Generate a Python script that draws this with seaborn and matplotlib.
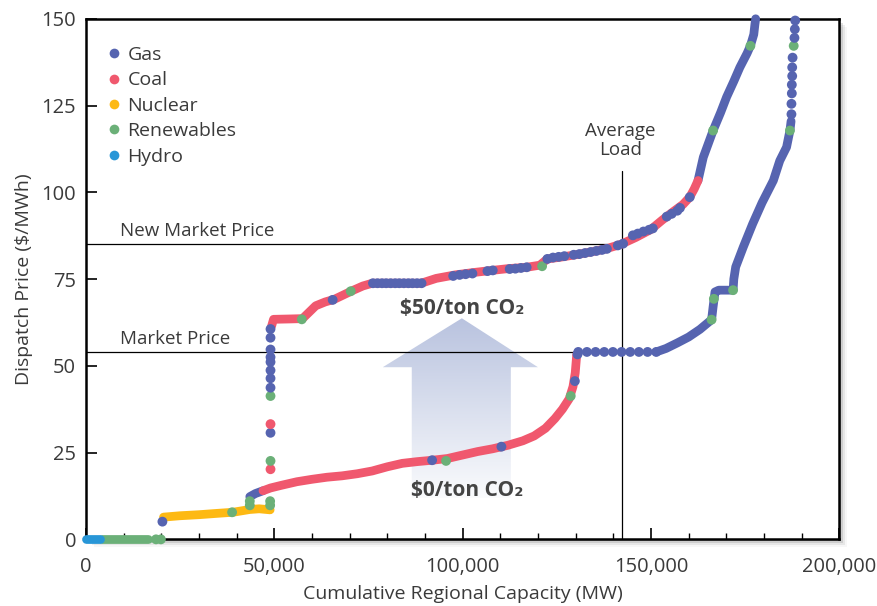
import numpy as np
import pandas as pd
import matplotlib
matplotlib.use("Agg")
import matplotlib.pyplot as plt
from matplotlib.lines import Line2D
from matplotlib.patches import Polygon, Rectangle
from matplotlib.ticker import MultipleLocator, FuncFormatter
import seaborn as sns

sns.set_theme(style="white")
plt.rcParams["font.family"] = ["Open Sans", "DejaVu Sans"]

fuels = ["Gas", "Coal", "Nuclear", "Renewables", "Hydro"]
fuel_colors = ["#5664b0", "#f0586e", "#fdb913", "#6bb078", "#2896d7"]
palette = dict(zip(fuels, fuel_colors))

G, C, N, R, H = fuels

# shared low end of the stack (no CO2 cost)
base_band_x = [4200, 16500, 0, 3600, 20600, 25000, 30000, 35000, 39000, 43500, 46000, 48900]
base_band_y = [0, 0, 0, 0, 6.4, 6.8, 7.1, 7.5, 7.8, 8.6, 8.8, 8.5]
base_band_fuel = [R, R, H, H, N, N, N, N, N, N, N, N]
base_dot_x = [18600, 19900, 20300, 38800, 43500, 43500, 48900, 48900]
base_dot_y = [0, 0, 5.1, 7.8, 9.8, 11.0, 9.8, 11.0]
base_dot_fuel = [R, R, G, R, R, R, R, R]

# $0/ton CO2 curve
zero_band_x = [43500, 45000, 47000,
               47000, 49000, 52000, 56000, 60000, 64000, 68000, 72000, 76000, 80000,
               84000, 88000, 92000, 96000, 100000, 104000, 108000, 112000, 116000,
               119000, 122000, 124500, 126500, 128300, 129300, 129900, 130300,
               151400, 154000, 157000, 160000, 163000, 166100, 166500, 167000, 168000,
               171800, 172000, 172500, 174500, 177000, 179500, 182500, 184200, 186000,
               186900, 187200]
zero_band_y = [12.3, 13.2, 14.0,
               14.0, 14.8, 15.6, 16.6, 17.3, 17.9, 18.3, 18.9, 19.7, 20.9,
               21.9, 22.4, 22.8, 23.3, 24.3, 25.3, 26.1, 27.1, 28.4,
               29.8, 32.0, 34.8, 37.5, 40.5, 44.0, 48.0, 53.3,
               54.0, 55.0, 56.6, 58.3, 60.5, 63.3, 67.0, 71.3, 71.8,
               71.8, 75.0, 78.5, 84.2, 90.9, 97.0, 103.4, 109.1, 113.0,
               117.8, 120.5]
zero_band_fuel = [G] * 3 + [C] * 27 + [G] * 20
zero_dot_x = [91900, 95600, 110300, 128700, 129800, 130500,
              130700, 133000, 135300, 137600, 139900, 142200, 144500, 146800, 149100, 151400,
              166100, 166700, 171800, 186900,
              187300, 187300, 187400, 187400, 187500, 187500, 187600,
              187900, 188100, 188200, 188300]
zero_dot_y = [22.8, 22.6, 26.7, 41.3, 45.6, 53.3,
              54.0, 54.0, 54.0, 54.0, 54.0, 54.0, 54.0, 54.0, 54.0, 54.0,
              63.3, 69.3, 71.8, 117.8,
              122.5, 125.5, 128.5, 131.0, 133.5, 136.0, 138.8,
              142.2, 144.5, 147.0, 149.5]
zero_dot_fuel = [G, R, G, R, G, G] + [G] * 10 + [R, R, R, R] + [G] * 7 + [R, G, G, G]

# $50/ton CO2 curve
fifty_band_x = [49300, 49800, 54000, 57500, 59300, 61000, 63500, 66000, 68500, 71000,
                73500, 76000, 89000, 93000, 98000, 103000, 107000, 112000, 117000,
                120500, 122500, 126000, 130000, 134000, 138000, 142000, 146000, 150000,
                153000, 156000, 158500, 160300, 161500, 162500,
                162500, 163900, 166500, 168500, 170100, 172000, 173600, 175500, 176400,
                177300, 177600, 177800]
fifty_band_y = [61.5, 63.4, 63.5, 63.6, 65.5, 67.3, 68.4, 69.2, 70.5, 71.8,
                73.0, 73.8, 73.8, 75.2, 76.2, 76.9, 77.4, 78.0, 78.4,
                79.0, 80.8, 81.3, 82.0, 82.8, 83.7, 85.0, 87.0, 89.3,
                92.0, 94.5, 96.5, 98.6, 101.0, 103.4,
                103.4, 110.1, 117.8, 123.0, 127.5, 132.0, 136.0, 140.0, 142.2,
                145.5, 148.4, 150.0]
fifty_band_fuel = [C] * 34 + [G] * 12
fifty_dot_x = [49000, 49000, 49000, 49000, 49000, 49000, 49000, 49000, 49000, 49000,
               49000, 49000, 49000,
               57300, 65500, 70300,
               76200, 77400, 78600, 79700, 80900, 82100, 83200, 84400, 85600, 86700, 87900, 89100,
               97500, 99200, 100800, 102600, 106600, 108000,
               112500, 114000, 115500, 117000, 121100,
               122500, 124000, 125500, 127000, 129500, 131000, 132500, 134000,
               135500, 137000, 138300, 141200, 142600,
               145200, 146500, 148000, 149500, 150500,
               154200, 155500, 157000, 157700, 160300,
               166500, 176400]
fifty_dot_y = [20.2, 22.6, 30.7, 33.2, 41.3, 43.7, 46.4, 48.7, 51.1, 52.5,
               54.7, 58.1, 60.6,
               63.4, 69.0, 71.5,
               73.8, 73.8, 73.8, 73.8, 73.8, 73.8, 73.8, 73.8, 73.8, 73.8, 73.8, 73.8,
               75.9, 76.2, 76.4, 76.6, 77.3, 77.5,
               77.9, 78.0, 78.2, 78.4, 78.7,
               80.8, 81.2, 81.4, 81.6, 82.0, 82.2, 82.5, 82.8,
               83.1, 83.4, 83.7, 84.7, 85.2,
               87.6, 88.1, 88.7, 89.2, 89.6,
               93.0, 93.8, 94.7, 95.5, 98.6,
               117.8, 142.2]
fifty_dot_fuel = ([C, R, G, C, R, G, G, G, G, G, G, G, G]
                  + [R, G, R] + [G] * 12 + [G] * 6 + [G, G, G, G, R]
                  + [G] * 8 + [G] * 5 + [G] * 5 + [G] * 5 + [R, R])

ink = "#3a3a3a"


def band_frame(xs, ys, fs, tag):
    df = pd.DataFrame({"mw": xs, "price": ys, "fuel": fs})
    df["run"] = tag + (df["fuel"] != df["fuel"].shift()).cumsum().astype(str)
    return df


def dot_frame(xs, ys, fs):
    return pd.DataFrame({"mw": xs, "price": ys, "fuel": fs})


bands = pd.concat([band_frame(base_band_x, base_band_y, base_band_fuel, "b"),
                   band_frame(zero_band_x, zero_band_y, zero_band_fuel, "z"),
                   band_frame(fifty_band_x, fifty_band_y, fifty_band_fuel, "f")])
dots = pd.concat([dot_frame(base_dot_x, base_dot_y, base_dot_fuel),
                  dot_frame(zero_dot_x, zero_dot_y, zero_dot_fuel),
                  dot_frame(fifty_dot_x, fifty_dot_y, fifty_dot_fuel)])

fig = plt.figure(figsize=(8.77, 6.06), dpi=100)
ax = fig.add_axes([0.098, 0.11, 0.859, 0.859])

# guide lines
ax.plot([0, 138300], [85, 85], color="black", lw=0.9, zorder=2)
ax.plot([0, 130300], [54, 54], color="black", lw=0.9, zorder=2)
ax.plot([142300, 142300], [0, 106], color="black", lw=0.9, zorder=2)

# gradient arrow
arrow = Polygon([(99800, 63.7), (120000, 49.6), (112800, 49.6), (112800, 12),
                 (86500, 12), (86500, 49.6), (78800, 49.6)], closed=True,
                facecolor="none", edgecolor="none", transform=ax.transData)
ax.add_patch(arrow)
top_rgb = np.array(matplotlib.colors.to_rgb("#b9c3df"))
bot_rgb = np.array(matplotlib.colors.to_rgb("#fafbfd"))
t = np.linspace(0, 1, 256)[:, None]
grad = (top_rgb * (1 - t) + bot_rgb * t)[:, None, :]
im = ax.imshow(grad, extent=(78800, 120000, 12, 63.7), aspect="auto",
               origin="upper", zorder=1, interpolation="bilinear")
im.set_clip_path(arrow)

sns.lineplot(data=bands, x="mw", y="price", hue="fuel", units="run",
             estimator=None, sort=False, palette=palette, linewidth=6.3,
             solid_capstyle="round", solid_joinstyle="round",
             legend=False, clip_on=False, zorder=3, ax=ax)
sns.scatterplot(data=dots, x="mw", y="price", hue="fuel", palette=palette,
                s=50, linewidth=0, legend=False, clip_on=False, zorder=4, ax=ax)

ax.set_xlim(0, 200000)
ax.set_ylim(0, 150)
ax.xaxis.set_major_locator(MultipleLocator(50000))
ax.xaxis.set_minor_locator(MultipleLocator(10000))
ax.yaxis.set_major_locator(MultipleLocator(25))
ax.xaxis.set_major_formatter(FuncFormatter(lambda v, p: f"{int(v):,}"))
ax.tick_params(axis="both", which="major", direction="in", length=8, width=1.2,
               color="black", labelsize=14.5, labelcolor=ink, pad=7)
ax.tick_params(axis="x", which="major", pad=12.5)
ax.tick_params(axis="x", which="minor", direction="in", length=4.5, width=1.0,
               color="black", bottom=True)
ax.tick_params(axis="x", which="major", bottom=True)
ax.tick_params(axis="y", which="major", left=True)
for sp in ax.spines.values():
    sp.set_color("black")
    sp.set_linewidth(1.8)
    sp.set_visible(True)

ax.set_xlabel("Cumulative Regional Capacity (MW)", fontsize=14, color=ink, labelpad=6)
ax.set_ylabel("Dispatch Price (\\$/MWh)", fontsize=14, color=ink, labelpad=6)

ax.text(9000, 88.8, "New Market Price", fontsize=13.5, color=ink, va="center", ha="left")
ax.text(9000, 57.6, "Market Price", fontsize=13.5, color=ink, va="center", ha="left")
ax.text(141800, 115, "Average\nLoad", fontsize=13.5, color=ink, ha="center",
        va="center", linespacing=1.1)
ax.text(99800, 66.6, "\\$50/ton CO₂", fontsize=15, fontweight="bold", color="#444444",
        ha="center", va="center", zorder=5)
ax.text(101100, 14.2, "\\$0/ton CO₂", fontsize=15, fontweight="bold", color="#444444",
        ha="center", va="center", zorder=5)

handles = [Line2D([], [], marker="o", ls="none", markersize=7, color=c,
                  markeredgewidth=0) for c in fuel_colors]
leg = ax.legend(handles, fuels, loc="upper left", bbox_to_anchor=(0.006, 0.97),
                frameon=False, fontsize=14, handletextpad=0.1, labelspacing=0.38,
                handlelength=1.2, borderaxespad=0.2)
for txt in leg.get_texts():
    txt.set_color(ink)

# soft drop shadow behind the frame
pos = ax.get_position()
for k, a in zip([2, 4, 6, 8], [0.35, 0.22, 0.12, 0.06]):
    dx, dy = k / 877, k / 606
    fig.patches.append(Rectangle((pos.x0 + dx, pos.y0 - dy), pos.width, pos.height,
                                 transform=fig.transFigure, facecolor="#7a7a7a",
                                 alpha=a, edgecolor="none", zorder=-1))

fig.savefig("out.png", dpi=100)
